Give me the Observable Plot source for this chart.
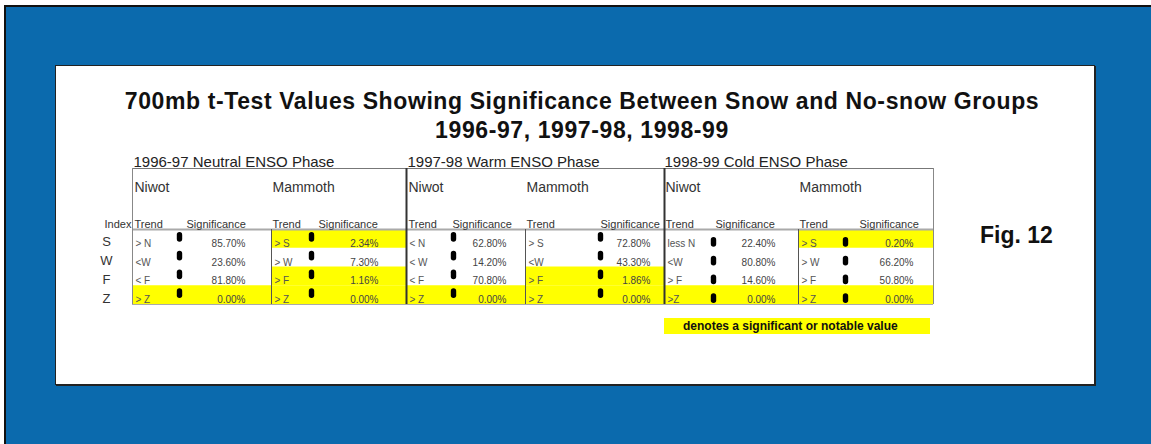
<!DOCTYPE html>
<html>
<head>
<meta charset="utf-8">
<script src="https://cdn.jsdelivr.net/npm/d3@7"></script>
<script src="https://cdn.jsdelivr.net/npm/@observablehq/plot@0.6"></script>
<style>
  html, body { margin: 0; padding: 0; background: #fff; width: 1151px; height: 444px; overflow: hidden; }
  #outer { position: absolute; left: 4px; top: 5px; right: 0; bottom: 0; background: #0b6aad;
           border-left: 2px solid #111; border-top: 2px solid #111; }
  #panel { position: absolute; left: 55px; top: 65px; width: 1038px; height: 318px; background: #fff;
           border: 1px solid #222; box-shadow: 1px 1px 0 #222; }
  #title { position: absolute; left: 582px; top: 87px; transform: translateX(-50%); white-space: nowrap;
           font-family: "Liberation Sans", Arial, sans-serif; font-weight: bold; font-size: 23px;
           line-height: 29px; text-align: center; color: #111; letter-spacing: 0.6px; }
  #fig { position: absolute; left: 980px; top: 222px; font-family: "Liberation Sans", Arial, sans-serif;
         font-weight: bold; font-size: 23px; color: #111; white-space: nowrap; }
  #legend { position: absolute; left: 664px; top: 318px; width: 266px; height: 16px; background: #ffff00;
            font-family: "Liberation Sans", Arial, sans-serif; font-weight: bold; font-size: 12px;
            line-height: 16px; color: #111; white-space: nowrap; box-sizing: border-box; padding-left: 19px; }
  #chart { position: absolute; left: 0; top: 0; }
</style>
</head>
<body>
<div id="outer"></div>
<div id="panel"></div>
<div id="title"></div>
<div id="fig"></div>
<div id="legend"></div>
<div id="chart"></div>
<script>
// ---------- data ----------
const titleLines = ["700mb t-Test Values Showing Significance Between Snow and No-snow Groups", "1996-97, 1997-98, 1998-99"];
const figLabel = "Fig. 12";
const legendText = "denotes a significant or notable value";
const phases = ["1996-97 Neutral ENSO Phase", "1997-98 Warm ENSO Phase", "1998-99 Cold ENSO Phase"];
const sites = ["Niwot", "Mammoth"];
const indices = ["S", "W", "F", "Z"];
const columnHeaders = ["Trend", "Significance"];
// one entry per (phase, site) block, in order: 96-97 Niwot, 96-97 Mammoth, 97-98 Niwot, 97-98 Mammoth, 98-99 Niwot, 98-99 Mammoth
const trends = [
  ["> N", "<W", "< F", "> Z"],
  ["> S", "> W", "> F", "> Z"],
  ["< N", "< W", "< F", "> Z"],
  ["> S", "<W", "> F", "> Z"],
  ["less N", "<W", "> F", ">Z"],
  ["> S", "> W", "> F", "> Z"]
];
const significance = [
  [85.70, 23.60, 81.80, 0.00],
  [2.34, 7.30, 1.16, 0.00],
  [62.80, 14.20, 70.80, 0.00],
  [72.80, 43.30, 1.86, 0.00],
  [22.40, 80.80, 14.60, 0.00],
  [0.20, 66.20, 50.80, 0.00]
];
const notableThreshold = 5; // highlighted cells are those below 5%

// ---------- layout (pixels) ----------
const L = {
  edges: [132, 271, 406, 525, 664, 798, 933],
  dotX: [179, 311, 453, 600, 713, 845],
  dotDy: [-2, -2, -2, -2, 3, 3],
  sigRight: [245, 378, 506, 650, 775, 913],
  hdrTrendX: [134, 272, 408, 526, 665, 799],
  hdrSigX: [186, 318, 452, 600, 715, 859],
  phaseX: [133, 407, 664],
  tableTop: 168, headerLine: 229, tableBottom: 304,
  indexX: 106
};

document.getElementById("title").innerHTML = titleLines.join("<br>");
document.getElementById("fig").textContent = figLabel;
document.getElementById("legend").textContent = legendText;

const cells = [];
trends.forEach((col, b) => indices.forEach((idx, j) =>
  cells.push({block: b, index: idx, trend: col[j], sig: significance[b][j]})));

const rowScale = Plot.scale({y: {type: "band", domain: indices, range: [L.headerLine, L.tableBottom], padding: 0}});
const bw = (L.tableBottom - L.headerLine) / indices.length;
const rowTop = (idx) => rowScale.apply(idx);

const blocks = d3.range(trends.length).map(b => ({block: b, site: sites[b % 2]}));
const headerCells = blocks.flatMap(b => [
  {x: L.hdrTrendX[b.block], text: columnHeaders[0]},
  {x: L.hdrSigX[b.block], text: columnHeaders[1]}
]);

const font = "'Liberation Sans', Arial, Helvetica, sans-serif";

const chart = Plot.plot({
  width: 1151, height: 444, margin: 0,
  x: {type: "identity", axis: null},
  y: {type: "identity", axis: null},
  style: {background: "transparent", overflow: "visible"},
  marks: [
    // highlighted (notable) cells
    Plot.rect(cells.filter(d => d.sig < notableThreshold), {
      x1: d => L.edges[d.block], x2: d => L.edges[d.block + 1],
      y1: d => rowTop(d.index), y2: d => rowTop(d.index) + bw,
      fill: "#ffff00"
    }),
    // horizontal rules
    Plot.ruleY([L.tableTop], {x1: L.edges[0], x2: L.edges[6], stroke: "#777", strokeWidth: 1}),
    Plot.ruleY([L.headerLine], {x1: L.edges[0], x2: L.edges[6], stroke: "#aaa", strokeWidth: 2}),
    Plot.ruleY([L.tableBottom], {x1: L.edges[0], x2: L.edges[6], stroke: "#aaa", strokeWidth: 1}),
    // vertical rules
    Plot.ruleX([L.edges[0], L.edges[6]], {y1: L.tableTop, y2: L.tableBottom, stroke: "#888", strokeWidth: 1}),
    Plot.ruleX([L.edges[2], L.edges[4]], {y1: L.tableTop, y2: L.tableBottom, stroke: "#333", strokeWidth: 2}),
    Plot.ruleX([L.edges[1], L.edges[3], L.edges[5]], {y1: L.headerLine, y2: L.tableBottom, stroke: "#555", strokeWidth: 1}),
    // phase titles
    Plot.text(phases, {x: (d, i) => L.phaseX[i], y: 166, text: d => d, textAnchor: "start", lineAnchor: "bottom",
      fontFamily: font, fontSize: 15, fill: "#222"}),
    // site headers
    Plot.text(blocks, {x: d => L.hdrTrendX[d.block], y: 191, text: "site", textAnchor: "start", lineAnchor: "bottom",
      fontFamily: font, fontSize: 14, fill: "#333"}),
    // column headers
    Plot.text(headerCells, {x: "x", y: 227, text: "text", textAnchor: "start", lineAnchor: "bottom",
      fontFamily: font, fontSize: 11, fill: "#333"}),
    Plot.text(["Index"], {x: 104, y: 227, text: d => d, textAnchor: "start", lineAnchor: "bottom",
      fontFamily: font, fontSize: 11, fill: "#333"}),
    // index letters
    Plot.text(indices, {x: L.indexX, y: d => rowTop(d) + bw - 2, text: d => d, textAnchor: "middle", lineAnchor: "bottom",
      fontFamily: font, fontSize: 13, fill: "#333"}),
    // trend text
    Plot.text(cells, {x: d => L.edges[d.block] + 3, y: d => rowTop(d.index) + bw - 1.5, text: "trend",
      textAnchor: "start", lineAnchor: "bottom", fontFamily: font, fontSize: 10, fill: "#555"}),
    // significance values
    Plot.text(cells, {x: d => L.sigRight[d.block], y: d => rowTop(d.index) + bw - 1.5, text: d => d.sig.toFixed(2) + "%",
      textAnchor: "end", lineAnchor: "bottom", fontFamily: font, fontSize: 10, fill: "#444"}),
    // bullet marks
    Plot.dot(cells, {x: d => L.dotX[d.block], y: d => rowTop(d.index) + bw / 2 + L.dotDy[d.block],
      r: 4, fill: "#000", stroke: "none",
      symbol: {draw(ctx) { const r = 2.7, h = 2.2;
        ctx.moveTo(r, -h); ctx.arc(0, -h, r, 0, Math.PI, true); ctx.lineTo(-r, h);
        ctx.arc(0, h, r, Math.PI, 0, true); ctx.closePath(); }}})
  ]
});
document.getElementById("chart").appendChild(chart);
</script>
</body>
</html>
